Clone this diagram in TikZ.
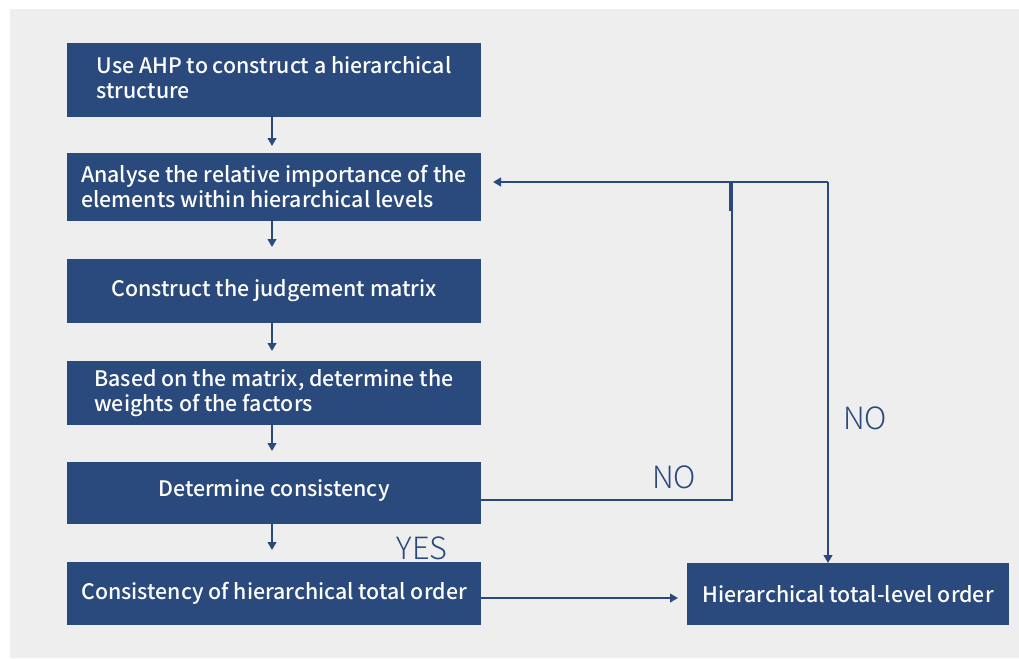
\documentclass[tikz,border=0pt]{standalone}
\usepackage{fontspec}
\setmainfont{Noto Sans CJK SC}
\newfontfamily\boxfont{Noto Sans CJK SC Medium}
\newfontfamily\labfont{Noto Sans CJK SC Light}
\usetikzlibrary{arrows.meta}
\definecolor{boxblue}{HTML}{2A4A7D}
\definecolor{bggray}{HTML}{EEEEEE}
\tikzset{
  stepbox/.style={fill=boxblue, draw=none, text=white, font=\boxfont\fontsize{16}{18.75}\selectfont,
    align=left, inner sep=0pt, minimum width=310.5pt},
  conn/.style={draw=boxblue, line width=1.5pt},
  arr/.style={conn, -{Triangle[length=6pt,width=6.5pt]}},
  lab/.style={text=boxblue, font=\labfont\fontsize{23}{26}\selectfont, inner sep=0pt}
}
\begin{document}
\begin{tikzpicture}[x=0.75pt,y=-0.75pt]
\useasboundingbox (0,0) rectangle (1019,658);
\fill[white] (0,0) rectangle (1019,658);
\fill[bggray] (10,9) rectangle (1019,658);

\node[stepbox, minimum height=55.5pt, text depth=4pt] (b1) at (274,80) {Use AHP to construct a hierarchical\\structure};
\node[stepbox, minimum height=51pt] (b2) at (274,187) {Analyse the relative importance of the\\elements within hierarchical levels};
\node[stepbox, minimum height=48pt] (b3) at (274,291) {Construct the judgement matrix};
\node[stepbox, minimum height=48pt] (b4) at (274,393) {Based on the matrix, determine the\\weights of the factors};
\node[stepbox, minimum height=46.5pt, text depth=8pt] (b5) at (274,493) {Determine consistency};
\node[stepbox, minimum height=47.25pt] (b6) at (274,593.5) {Consistency of hierarchical total order};
\node[stepbox, minimum width=241.5pt, minimum height=46.5pt] (rb) at (848,594) {Hierarchical total-level order};

% vertical arrows
\coordinate (t1) at (272,146);
\coordinate (t2) at (272,247);
\coordinate (t3) at (272,351);
\coordinate (t4) at (272,451);
\coordinate (t5) at (272,550);
\draw[arr] (b1.south -| t1) -- (t1);
\draw[arr] (b2.south -| t2) -- (t2);
\draw[arr] (b3.south -| t3) -- (t3);
\draw[arr] (b4.south -| t4) -- (t4);
\draw[arr] (b5.south -| t5) -- (t5);

% loop back
\coordinate (c1) at (732,500);
\coordinate (c2) at (732,182);
\coordinate (c3) at (828,182);
\coordinate (tip2) at (493,182);
\coordinate (tipr) at (828,563);
\coordinate (tip6) at (678,598);
\draw[conn] (b5.east |- c1) -- (c1) -- (c2);
\draw[draw=boxblue, line width=2.6pt] (731.2,183) -- (731.2,211);
\draw[arr] (c3) -- (tip2);
\draw[arr] (c3) -- (tipr);
\draw[arr] (b6.east |- tip6) -- (tip6);

\node[lab] (no1) at (674,477) {NO};
\node[lab] (no2) at (865,418) {NO};
\node[lab] (yes) at (422,548) {YES};
\end{tikzpicture}
\end{document}
